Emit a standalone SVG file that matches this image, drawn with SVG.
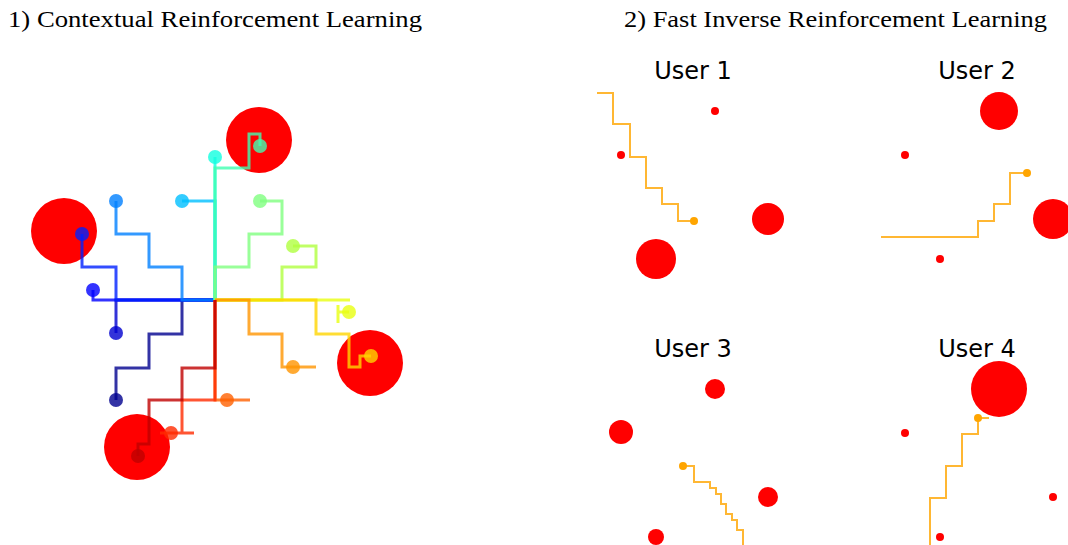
<svg xmlns="http://www.w3.org/2000/svg" width="1068" height="545" viewBox="0 0 1068 545">
<style>
.title{font-family:"Liberation Serif","Times New Roman",serif;font-size:24px;fill:#000}
.user{font-family:"DejaVu Sans","Liberation Sans",sans-serif;font-size:24px;fill:#000;text-anchor:middle}
.target{fill:#ff0000}
.traj{fill:none;stroke-width:3;stroke-opacity:0.8;stroke-linejoin:miter;stroke-linecap:butt}
.agent{fill-opacity:0.8}
.utraj{fill:none;stroke:#ffa500;stroke-opacity:0.8;stroke-width:2}
.uagent{fill:#ffa500}
</style>
<rect width="1068" height="545" fill="#fff"/>
<text class="title" x="8" y="27" textLength="414" lengthAdjust="spacingAndGlyphs">1) Contextual Reinforcement Learning</text>
<text class="title" x="624" y="27" textLength="423" lengthAdjust="spacingAndGlyphs">2) Fast Inverse Reinforcement Learning</text>

<g id="panel1">
  <g id="targets1">
    <circle id="t1a" class="target" cx="64" cy="231" r="33"/>
    <circle id="t1b" class="target" cx="259" cy="140" r="33"/>
    <circle id="t1c" class="target" cx="370" cy="363" r="33"/>
    <circle id="t1d" class="target" cx="137" cy="447" r="33"/>
  </g>
  <g id="connectors1">
    <path class="traj" stroke="#00008f" d="M215,300 H182 V334 H149 V368 H116 V400"/>
    <path class="traj" stroke="#0000d0" d="M215,300 H116 V333"/>
    <path class="traj" stroke="#0000ff" d="M215,300 H93 V290"/>
    <path class="traj" stroke="#0020ff" d="M215,300 H116 V267 H82 V234"/>
    <path class="traj" stroke="#0080ff" d="M215,300 H182 V267 H149 V234 H116 V201"/>
    <path class="traj" stroke="#00bfff" d="M215,300 V201 H182"/>
    <path class="traj" stroke="#10ffe0" d="M215,300 V157"/>
    <path class="traj" stroke="#40ffb0" d="M215,300 V168 H249 V134 H260 V146"/>
    <path class="traj" stroke="#80ff80" d="M215,300 V267 H249 V234 H282 V201 H260"/>
    <path class="traj" stroke="#b0ff40" d="M215,300 H282 V267 H316 V246 H293"/>
    <path class="traj" stroke="#e8ff10" d="M215,300 H350 M338,305 V323 M338,312 H349"/>
    <path class="traj" stroke="#ffd400" d="M215,300 H316 V334 H349 V367 H360 V356 H371"/>
    <path class="traj" stroke="#ff9500" d="M215,300 H249 V334 H282 V367 H316"/>
    <path class="traj" stroke="#ff6000" d="M215,300 V400 H250"/>
    <path class="traj" stroke="#ff2a00" d="M215,300 V400 H182 V433 H194 M182,433 H160"/>
    <path class="traj" stroke="#bf0000" d="M215,300 V368 H182 V400 H149 V444 H138 V456"/>
  </g>
  <g id="agents1">
    <circle id="a1" class="agent" fill="#00008f" cx="116" cy="400" r="7"/>
    <circle id="a2" class="agent" fill="#0000d0" cx="116" cy="333" r="7"/>
    <circle id="a3" class="agent" fill="#0000ff" cx="93" cy="290" r="7"/>
    <circle id="a4" class="agent" fill="#0020ff" cx="82" cy="234" r="7"/>
    <circle id="a5" class="agent" fill="#0080ff" cx="116" cy="201" r="7"/>
    <circle id="a6" class="agent" fill="#00bfff" cx="182" cy="201" r="7"/>
    <circle id="a7" class="agent" fill="#10ffe0" cx="215" cy="157" r="7"/>
    <circle id="a8" class="agent" fill="#40ffb0" cx="260" cy="146" r="7"/>
    <circle id="a9" class="agent" fill="#80ff80" cx="260" cy="201" r="7"/>
    <circle id="a10" class="agent" fill="#b0ff40" cx="293" cy="246" r="7"/>
    <circle id="a11" class="agent" fill="#e8ff10" cx="349" cy="312" r="7"/>
    <circle id="a12" class="agent" fill="#ffd400" cx="371" cy="356" r="7"/>
    <circle id="a13" class="agent" fill="#ff9500" cx="293" cy="367" r="7"/>
    <circle id="a14" class="agent" fill="#ff6000" cx="227" cy="400" r="7"/>
    <circle id="a15" class="agent" fill="#ff2a00" cx="171" cy="433" r="7"/>
    <circle id="a16" class="agent" fill="#bf0000" cx="138" cy="456" r="7"/>
  </g>
</g>

<g id="user1">
  <text class="user" x="693" y="79">User 1</text>
  <circle class="target" cx="715" cy="111" r="4"/>
  <circle class="target" cx="621" cy="155" r="4"/>
  <circle class="target" cx="768" cy="219" r="16"/>
  <circle class="target" cx="656" cy="259" r="20"/>
  <path class="utraj" d="M597,93 H613 V124 H630 V157 H646 V188 H662 V204 H678 V221 H694"/>
  <circle class="uagent" cx="694" cy="221" r="4"/>
</g>
<g id="user2">
  <text class="user" x="977" y="79">User 2</text>
  <circle class="target" cx="999" cy="111" r="19"/>
  <circle class="target" cx="905" cy="155" r="4"/>
  <circle class="target" cx="1053" cy="219" r="20"/>
  <circle class="target" cx="940" cy="259" r="4"/>
  <path class="utraj" d="M881,237 H978 V221 H994 V204 H1010 V173 H1027"/>
  <circle class="uagent" cx="1027" cy="173" r="4"/>
</g>
<g id="user3">
  <text class="user" x="693" y="357">User 3</text>
  <circle class="target" cx="715" cy="389" r="10"/>
  <circle class="target" cx="621" cy="432" r="12"/>
  <circle class="target" cx="768" cy="497" r="10"/>
  <circle class="target" cx="656" cy="537" r="8"/>
  <path class="utraj" d="M683,466 H694 V482 H710 V488 H716 V494 H721 V504 H726 V514 H732 V520 H737 V530 H743 V545"/>
  <circle class="uagent" cx="683" cy="466" r="4"/>
</g>
<g id="user4">
  <text class="user" x="977" y="357">User 4</text>
  <circle class="target" cx="999" cy="389" r="28"/>
  <circle class="target" cx="905" cy="433" r="4"/>
  <circle class="target" cx="1053" cy="497" r="4"/>
  <circle class="target" cx="940" cy="537" r="4"/>
  <path class="utraj" d="M989,418 H978 V434 H962 V466 H946 V498 H930 V545"/>
  <circle class="uagent" cx="978" cy="418" r="4"/>
</g>
</svg>
